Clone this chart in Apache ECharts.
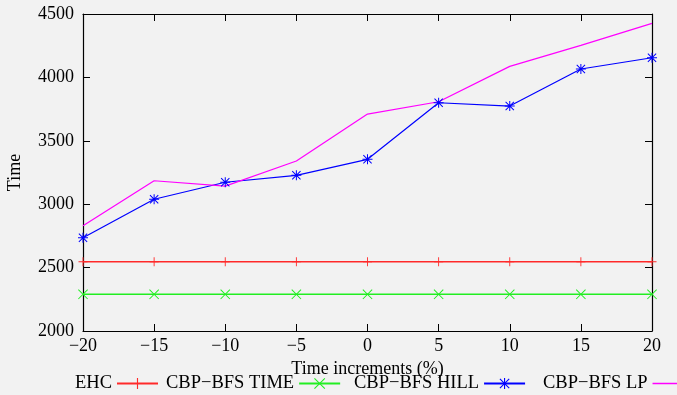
<!DOCTYPE html>
<html>
<head>
<meta charset="utf-8">
<script src="https://cdn.jsdelivr.net/npm/echarts@6/dist/echarts.min.js"></script>
<style>
html,body{margin:0;padding:0;background:#f2f2f2;}
#c{width:677px;height:395px;}
</style>
</head>
<body>
<div id="c"></div>
<script>
const xValues = [-20, -15, -10, -5, 0, 5, 10, 15, 20];
const ehc = [2546, 2546, 2546, 2546, 2546, 2546, 2546, 2546, 2546];
const cbpTime = [2289, 2289, 2289, 2289, 2289, 2289, 2289, 2289, 2289];
const cbpHill = [2736, 3039, 3173, 3228, 3354, 3800, 3774, 4066, 4155];
const cbpLp = [2830, 3185, 3143, 3341, 3711, 3808, 4087, 4253, 4426];
const seriesNames = ['EHC', 'CBP\u2212BFS TIME', 'CBP\u2212BFS HILL', 'CBP\u2212BFS LP'];
const xTitle = 'Time increments (%)';
const yTitle = 'Time';

const FONT = 'Liberation Serif';
const FS = 18;
const pair = ys => xValues.map((x, i) => [x, ys[i]]);
const plusPath = 'path://M4.5,0h1v10h-1z M0,4.5h10v1h-10z';
const crossPath = 'path://M0,0.7L0.7,0L10,9.3L9.3,10Z M9.3,0L10,0.7L0.7,10L0,9.3Z';
const starPath = 'path://M4.5,0h1v10h-1z M0,4.5h10v1h-10z M0.5,1.2L1.2,0.5L9.5,8.8L8.8,9.5Z M8.8,0.5L9.5,1.2L1.2,9.5L0.5,8.8Z';
const fmt = v => String(v).replace('-', '\u2212');

const legendLefts = [75, 166, 354, 543];
const legends = seriesNames.map((n, i) => {
  const lg = {
    left: legendLefts[i], top: 374, width: 200, orient: 'horizontal', align: 'right', padding: 0,
    itemWidth: 41, itemHeight: 14,
    textStyle: {fontFamily: FONT, fontSize: 18.5, color: '#000'},
    data: [{name: n}]
  };
  if (i === 3) {
    lg.icon = 'rect';
    lg.itemHeight = 1.4;
    lg.itemStyle = {color: '#ff00ff', borderWidth: 0};
  }
  return lg;
});

const chart = echarts.init(document.getElementById('c'));
const axisCommon = {
  axisLine: {show: true, onZero: false, lineStyle: {color: '#000', width: 1.2}},
  axisTick: {show: true, inside: true, length: 7, lineStyle: {color: '#000', width: 1}},
  splitLine: {show: false}
};
chart.setOption({
  backgroundColor: '#f2f2f2',
  animation: false,
  textStyle: {fontFamily: FONT},
  grid: {left: 83, right: 25, top: 14, bottom: 64, containLabel: false, outerBoundsMode: 'none'},
  legend: legends,
  xAxis: [
    Object.assign({}, axisCommon, {
      type: 'value', min: -20, max: 20, interval: 5, position: 'bottom',
      name: xTitle, nameLocation: 'middle', nameGap: 26,
      nameTextStyle: {fontFamily: FONT, fontSize: FS, color: '#000'},
      axisLabel: {fontFamily: FONT, fontSize: FS, color: '#000', margin: 6, formatter: fmt}
    }),
    Object.assign({}, axisCommon, {
      type: 'value', min: -20, max: 20, interval: 5, position: 'top',
      axisLabel: {show: false}
    })
  ],
  yAxis: [
    Object.assign({}, axisCommon, {
      type: 'value', min: 2000, max: 4500, interval: 500, position: 'left',
      name: yTitle, nameLocation: 'middle', nameGap: 59, nameRotate: 90,
      nameTextStyle: {fontFamily: FONT, fontSize: FS, color: '#000'},
      axisLabel: {fontFamily: FONT, fontSize: FS, color: '#000', margin: 9, formatter: v => String(v)}
    }),
    Object.assign({}, axisCommon, {
      type: 'value', min: 2000, max: 4500, interval: 500, position: 'right',
      axisLabel: {show: false}
    })
  ],
  series: [
    {name: seriesNames[0], type: 'line', data: pair(ehc), symbol: plusPath, symbolSize: 9,
     lineStyle: {color: '#ff2a2a', width: 1.5}, itemStyle: {color: '#ff2a2a'}},
    {name: seriesNames[1], type: 'line', data: pair(cbpTime), symbol: crossPath, symbolSize: 10,
     lineStyle: {color: '#22ee22', width: 1.5}, itemStyle: {color: '#22ee22'}},
    {name: seriesNames[2], type: 'line', data: pair(cbpHill), symbol: starPath, symbolSize: 10,
     lineStyle: {color: '#0000ff', width: 1.2}, itemStyle: {color: '#0000ff'}},
    {name: seriesNames[3], type: 'line', data: pair(cbpLp), symbol: 'none',
     lineStyle: {color: '#ff00ff', width: 1.2}, itemStyle: {color: '#ff00ff'}}
  ]
});
</script>
</body>
</html>
